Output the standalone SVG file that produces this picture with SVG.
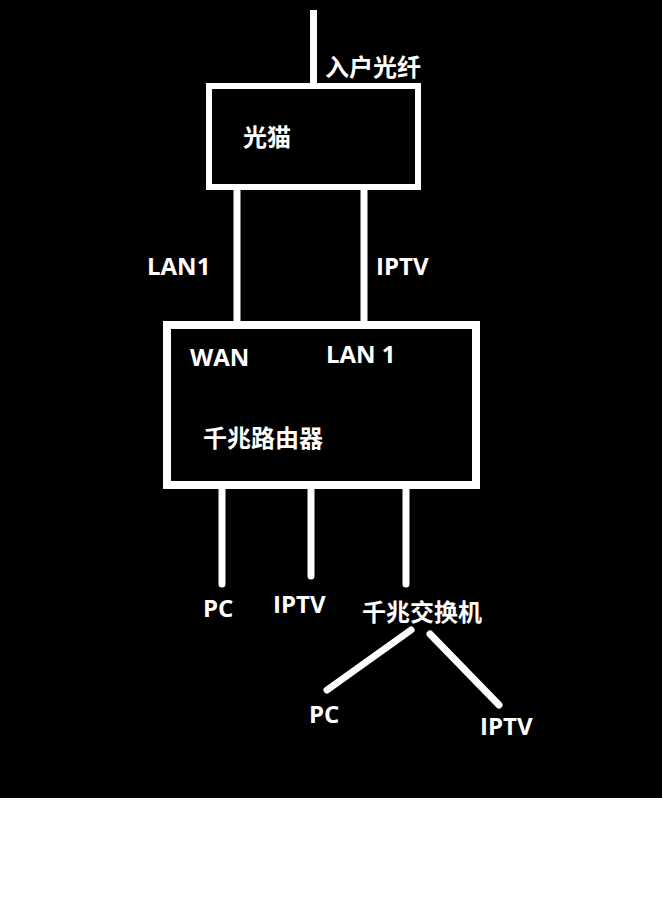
<svg xmlns="http://www.w3.org/2000/svg" width="662" height="898" viewBox="0 0 662 898">
<style>
.bg{fill:#000}
.box{fill:none;stroke:#fff}
.wire{stroke:#fff;stroke-width:7;fill:none}
.rc{stroke-linecap:round}
text{fill:#fff;font-family:"Open Sans","Noto Sans CJK SC",sans-serif;font-weight:bold;font-size:24px}
.cjk{font-family:"Noto Sans CJK SC","Noto Sans CJK TC",sans-serif}
</style>
<rect x="0" y="0" width="662" height="898" fill="#fff"/>
<rect class="bg" x="0" y="0" width="662" height="798"/>
<g id="connectors">
<line class="wire" x1="313.5" y1="10" x2="313.5" y2="86"/>
<line class="wire" x1="237" y1="190" x2="237" y2="325"/>
<line class="wire rc" x1="364" y1="190" x2="364" y2="325"/>
<line class="wire rc" x1="222" y1="489" x2="222" y2="584"/>
<line class="wire rc" x1="311" y1="489" x2="311" y2="576"/>
<line class="wire rc" x1="406" y1="489" x2="406" y2="584"/>
<line class="wire rc" x1="411" y1="630" x2="327" y2="690"/>
<line class="wire rc" x1="430" y1="634" x2="499" y2="705"/>
</g>
<g id="fiber-label"><text class="cjk" x="325" y="76">入户光纤</text></g>
<g id="modem">
<rect class="box" x="209" y="86" width="209" height="101" stroke-width="6"/>
<text class="cjk" x="243" y="146">光猫</text>
</g>
<g id="label-lan1"><text x="147" y="275">LAN1</text></g>
<g id="label-iptv-top"><text x="376" y="275">IPTV</text></g>
<g id="router">
<rect class="box" x="167" y="325" width="309" height="160" stroke-width="8"/>
<text x="190" y="366">WAN</text>
<text x="326" y="363">LAN 1</text>
<text class="cjk" x="203" y="447">千兆路由器</text>
</g>
<g id="pc1"><text x="203" y="617">PC</text></g>
<g id="iptv1"><text x="273" y="613">IPTV</text></g>
<g id="switch"><text class="cjk" x="362" y="621">千兆交换机</text></g>
<g id="pc2"><text x="309" y="723">PC</text></g>
<g id="iptv2"><text x="480" y="735">IPTV</text></g>
</svg>
